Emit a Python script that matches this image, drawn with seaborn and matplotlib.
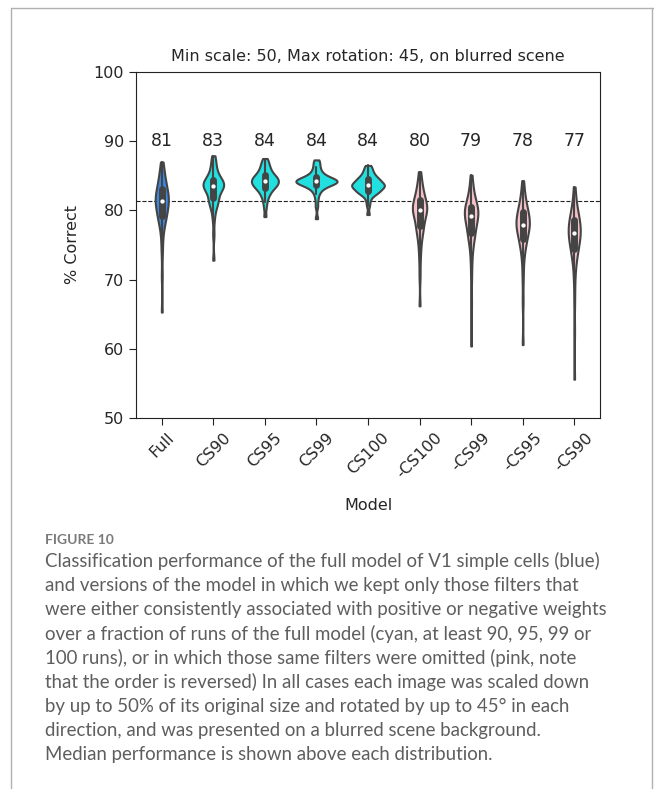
import numpy as np
import pandas as pd
import seaborn as sns
import matplotlib.pyplot as plt
from matplotlib.lines import Line2D

# Models in plotting order
models = ["Full", "CS90", "CS95", "CS99", "CS100", "-CS100", "-CS99", "-CS95", "-CS90"]
model_colors = ["#3a88e4", "#22e0e0", "#22e0e0", "#22e0e0", "#22e0e0",
                "#f5c0c8", "#f5c0c8", "#f5c0c8", "#f5c0c8"]
median_labels = ["81", "83", "84", "84", "84", "80", "79", "78", "77"]

# % correct per run
full = [65.3, 70.5, 73.8, 75.6, 76.8, 77.6, 78.1, 78.5, 78.8, 79.0, 79.2, 79.5, 79.8, 80.0,
        80.3, 80.5, 80.7, 80.9, 81.1, 81.2, 81.4, 81.5, 81.7, 81.8, 82.0, 82.2, 82.4, 82.6,
        82.8, 83.0, 83.2, 83.5, 83.8, 84.1, 84.4, 84.8, 85.2, 85.7, 86.3, 87.0]
cs90 = [72.8, 76.5, 78.6, 79.6, 80.3, 80.7, 81.0, 81.2, 81.4, 81.6, 81.8, 82.1, 82.4, 82.7,
        82.9, 83.1, 83.2, 83.3, 83.4, 83.5, 83.5, 83.6, 83.7, 83.8, 83.9, 84.0, 84.1, 84.2,
        84.3, 84.4, 84.6, 84.8, 85.0, 85.3, 85.6, 86.0, 86.4, 86.9, 87.4, 87.9]
cs95 = [79.1, 80.4, 81.2, 81.7, 82.1, 82.4, 82.6, 82.8, 83.0, 83.2, 83.3, 83.4, 83.5, 83.6,
        83.7, 83.8, 83.9, 84.0, 84.1, 84.2, 84.2, 84.3, 84.4, 84.5, 84.6, 84.7, 84.8, 84.9,
        85.0, 85.1, 85.2, 85.4, 85.6, 85.8, 86.0, 86.2, 86.5, 86.8, 87.1, 87.5]
cs99 = [78.8, 80.6, 81.6, 82.3, 82.7, 83.0, 83.2, 83.4, 83.5, 83.6, 83.7, 83.8, 83.9, 83.9,
        84.0, 84.0, 84.1, 84.1, 84.2, 84.2, 84.2, 84.3, 84.3, 84.4, 84.4, 84.5, 84.5, 84.6,
        84.7, 84.8, 84.9, 85.0, 85.2, 85.4, 85.6, 85.9, 86.2, 86.6, 87.0, 87.3]
cs100 = [79.4, 80.7, 81.4, 81.9, 82.2, 82.4, 82.5, 82.6, 82.7, 82.8, 82.9, 83.0, 83.1, 83.2,
         83.3, 83.4, 83.5, 83.5, 83.6, 83.6, 83.7, 83.7, 83.8, 83.9, 84.0, 84.1, 84.2, 84.3,
         84.4, 84.5, 84.6, 84.7, 84.8, 85.0, 85.2, 85.4, 85.6, 85.9, 86.2, 86.5]
not_cs100 = [66.2, 70.5, 72.8, 74.2, 75.2, 75.9, 76.5, 76.9, 77.2, 77.5, 77.8, 78.1, 78.4, 78.7,
             79.0, 79.3, 79.5, 79.7, 79.9, 80.0, 80.0, 80.2, 80.3, 80.4, 80.6, 80.7, 80.9, 81.1,
             81.3, 81.5, 81.7, 81.9, 82.2, 82.5, 82.8, 83.2, 83.6, 84.1, 84.8, 85.6]
not_cs99 = [60.4, 66.5, 70.2, 72.4, 73.8, 74.8, 75.5, 75.9, 76.2, 76.5, 76.8, 77.1, 77.4, 77.7,
            78.0, 78.3, 78.6, 78.8, 79.0, 79.1, 79.3, 79.4, 79.6, 79.7, 79.8, 79.9, 80.1, 80.2,
            80.4, 80.5, 80.7, 80.9, 81.2, 81.5, 81.8, 82.2, 82.7, 83.3, 84.1, 85.1]
not_cs95 = [60.6, 66.8, 70.0, 72.0, 73.3, 74.1, 74.7, 75.1, 75.4, 75.7, 76.0, 76.3, 76.6, 76.9,
            77.1, 77.3, 77.5, 77.7, 77.8, 77.9, 78.0, 78.1, 78.3, 78.5, 78.7, 78.9, 79.1, 79.3,
            79.5, 79.7, 79.9, 80.1, 80.4, 80.7, 81.0, 81.4, 81.9, 82.5, 83.3, 84.3]
not_cs90 = [55.6, 62.5, 66.8, 69.5, 71.2, 72.3, 73.0, 73.5, 73.9, 74.2, 74.5, 74.8, 75.1, 75.4,
            75.7, 75.9, 76.1, 76.3, 76.5, 76.6, 76.8, 76.9, 77.1, 77.3, 77.5, 77.7, 77.9, 78.1,
            78.3, 78.5, 78.7, 78.9, 79.2, 79.5, 79.8, 80.2, 80.7, 81.4, 82.3, 83.4]

caption_title = "FIGURE 10"
caption_lines = [
    "Classification performance of the full model of V1 simple cells (blue)",
    "and versions of the model in which we kept only those filters that",
    "were either consistently associated with positive or negative weights",
    "over a fraction of runs of the full model (cyan, at least 90, 95, 99 or",
    "100 runs), or in which those same filters were omitted (pink, note",
    "that the order is reversed) In all cases each image was scaled down",
    "by up to 50% of its original size and rotated by up to 45\u00b0 in each",
    "direction, and was presented on a blurred scene background.",
    "Median performance is shown above each distribution.",
]

runs = [full, cs90, cs95, cs99, cs100, not_cs100, not_cs99, not_cs95, not_cs90]
df = pd.concat(
    [pd.DataFrame({"Model": m, "% Correct": r}) for m, r in zip(models, runs)],
    ignore_index=True,
)

sns.set_style("ticks")
fig = plt.figure(figsize=(6.54, 7.89), dpi=100)
ax = fig.add_axes([136 / 654, 1 - 418 / 789, 464 / 654, 346 / 789])

sns.violinplot(
    data=df, x="Model", y="% Correct", hue="Model", order=models,
    palette=dict(zip(models, model_colors)), saturation=1, legend=False,
    cut=0, bw_adjust=0.6, common_norm=True, linewidth=1.5, linecolor="#444444",
    inner="box", inner_kws=dict(box_width=5, whis_width=1.5, marker="."), ax=ax,
)

ax.axhline(np.median(full), ls="--", color="#222222", lw=0.8, zorder=0)
for i, lab in enumerate(median_labels):
    ax.text(i, 90, lab, ha="center", va="center", fontsize=12.5)

ax.set_ylim(50, 100)
ax.set_xlim(-0.5, len(models) - 0.5)
ax.set_yticks([50, 60, 70, 80, 90, 100])
ax.tick_params(labelsize=11.5, length=5, color="#222222")
plt.setp(ax.get_xticklabels(), rotation=45)
ax.set_xlabel("Model", fontsize=11.5, labelpad=12)
ax.set_ylabel("% Correct", fontsize=11.5, labelpad=10)
ax.set_title("Min scale: 50, Max rotation: 45, on blurred scene", fontsize=11.5, pad=8)
for s in ax.spines.values():
    s.set_color("#222222")

# page frame
for xs, ys in [([11, 11], [0, 781]), ([11, 654], [781, 781]), ([652, 652], [0, 781])]:
    fig.add_artist(Line2D(np.array(xs) / 654, np.array(ys) / 789,
                          transform=fig.transFigure, color="#b0b0b0", lw=1))

fig.text(45 / 654, 1 - 540 / 789, caption_title, fontsize=10, family="Lato",
         weight="bold", color="#7a7a7a", va="center")
for k, line in enumerate(caption_lines):
    fig.text(45 / 654, 1 - (561 + 24.2 * k) / 789, line, fontsize=13.4, family="Lato",
             color="#5e5e5e", va="center")

plt.savefig("out.png", dpi=100)
